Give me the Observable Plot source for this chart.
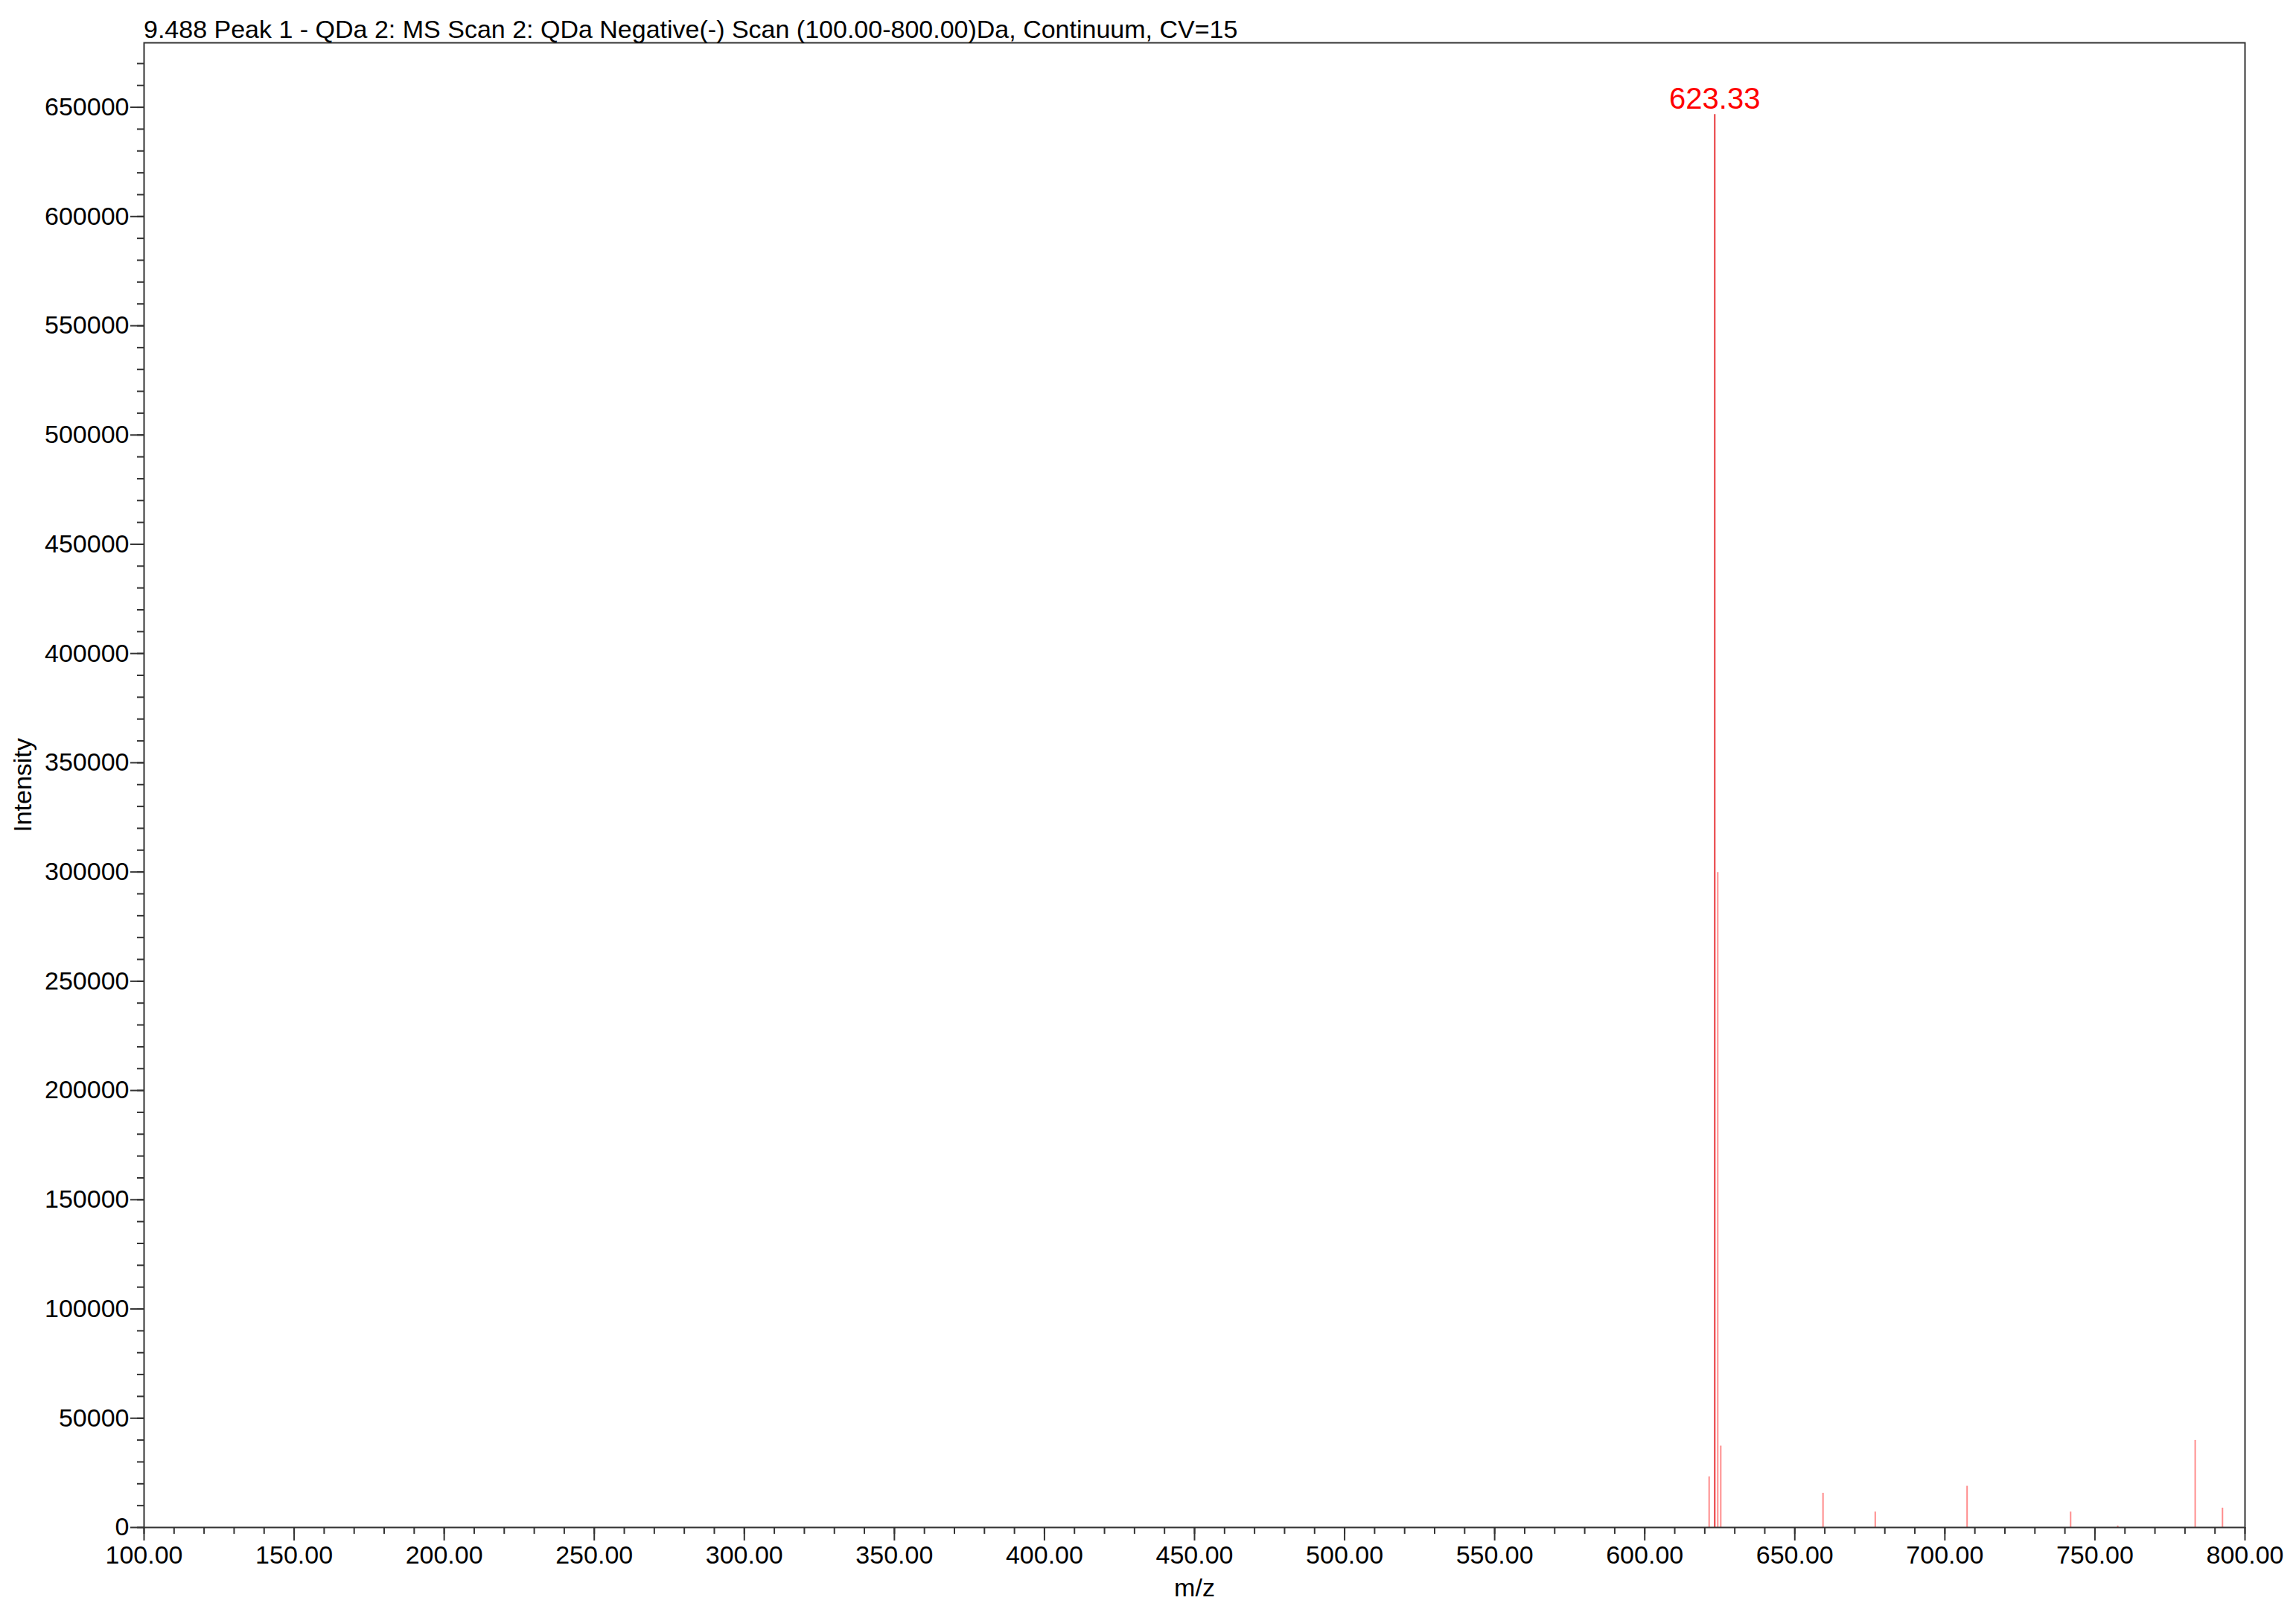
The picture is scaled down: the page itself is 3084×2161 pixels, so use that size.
<!DOCTYPE html>
<html>
<head>
<meta charset="utf-8">
<script src="https://cdn.jsdelivr.net/npm/d3@7"></script>
<script src="https://cdn.jsdelivr.net/npm/@observablehq/plot@0.6"></script>
<style>
  html, body { margin: 0; padding: 0; background: #fff; }
  #wrap { position: relative; width: 3084px; height: 2161px; }
  #title { position: absolute; left: 193px; top: 22px; font-family: "Liberation Sans", Arial, sans-serif; font-size: 34px; line-height: 1; color: #000; white-space: nowrap; }
</style>
</head>
<body>
<div id="wrap">
  <div id="title"></div>
</div>
<script>
// ---- data ----
const titleText = "9.488 Peak 1 - QDa 2: MS Scan 2: QDa Negative(-) Scan (100.00-800.00)Da, Continuum, CV=15";
const mz        = [621.46, 623.33, 624.33, 625.33, 659.40, 676.80, 707.40, 741.90, 757.60, 783.40, 792.50];
const intensity = [23200, 646700, 299800, 37300, 15700, 7100, 18900, 7100, 700, 39900, 8900];
const labelledPeak = 623.33;
const xMajorTicks = d3.range(100, 801, 50);
const xMinorTicks = d3.range(100, 801, 10);
const yMajorTicks = d3.range(0, 650001, 50000);
const yMinorTicks = d3.range(0, 670001, 10000);
const xLabel = "m/z";
const yLabel = "Intensity";

const peaks = mz.map((m, i) => ({mz: m, int: intensity[i]}));

document.getElementById("title").textContent = titleText;

const axisColor = "#333";

const chart = Plot.plot({
  width: 3084,
  height: 2161,
  marginLeft: 193,
  marginRight: 69,
  marginTop: 57,
  marginBottom: 110,
  x: {domain: [100, 800]},
  y: {domain: [0, 679500]},
  style: {fontFamily: "'Liberation Sans', Arial, sans-serif", fontSize: "34px", color: "#000", background: "#fff", overflow: "visible"},
  marks: [
    Plot.ruleX(peaks.filter(d => d.mz !== labelledPeak), {x: "mz", y1: 0, y2: "int", stroke: "#ff0000", strokeOpacity: 0.45, strokeWidth: 2}),
    Plot.ruleX(peaks.filter(d => d.mz === labelledPeak), {x: "mz", y1: 0, y2: "int", stroke: "#e41f24", strokeOpacity: 0.9, strokeWidth: 2}),
    Plot.text(peaks.filter(d => d.mz === labelledPeak), {x: "mz", y: "int", text: d => d.mz.toFixed(2), fill: "#ff0000", fontSize: 40, lineAnchor: "bottom", dy: -8}),
    Plot.axisX(xMinorTicks, {tickSize: 9, tickFormat: () => "", stroke: axisColor, strokeWidth: 2, label: null}),
    Plot.axisX(xMajorTicks, {tickSize: 18, tickPadding: 6, tickFormat: d3.format(".2f"), stroke: axisColor, strokeWidth: 2, label: null}),
    Plot.axisY(yMinorTicks, {tickSize: 9, tickFormat: () => "", stroke: axisColor, strokeWidth: 2, label: null}),
    Plot.axisY(yMajorTicks, {tickSize: 18, tickPadding: 2, tickFormat: d3.format("d"), stroke: axisColor, strokeWidth: 2, label: null}),
    Plot.text([xLabel], {frameAnchor: "bottom", text: d => d, textAnchor: "middle", lineAnchor: "middle", dy: 82}),
    Plot.text([yLabel], {frameAnchor: "left", text: d => d, rotate: -90, textAnchor: "middle", lineAnchor: "middle", dx: -162}),
    Plot.frame({stroke: axisColor, strokeWidth: 2})
  ]
});
document.getElementById("wrap").appendChild(chart);
</script>
</body>
</html>
